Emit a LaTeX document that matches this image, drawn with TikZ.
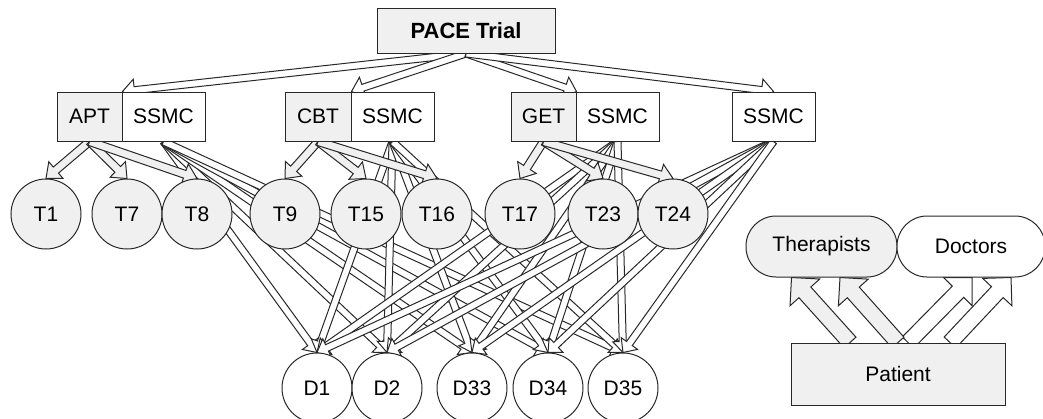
\documentclass[tikz,border=0pt]{standalone}
\usepackage{fontspec}
\setmainfont{Liberation Sans}
\usetikzlibrary{calc}
\pgfdeclarelayer{arrows}
\pgfsetlayers{arrows,main}

\definecolor{ink}{RGB}{40,40,40}
\definecolor{shade}{RGB}{240,240,240}

% Hollow block arrow: [style]{start}{tip}{shaft half width}{head half width}{head length}
\newcommand\blockarrow[6][]{%
  \coordinate (ba-s) at (#2);
  \coordinate (ba-t) at (#3);
  \coordinate (ba-b) at ($(ba-t)!#6!(ba-s)$);
  \draw[line width=1pt, draw=ink, line join=miter, #1]
    ($(ba-s)!#4!90:(ba-t)$) -- ($(ba-b)!#4!90:(ba-t)$) -- ($(ba-b)!#5!90:(ba-t)$)
    -- (ba-t) -- ($(ba-b)!#5!-90:(ba-t)$) -- ($(ba-b)!#4!-90:(ba-t)$)
    -- ($(ba-s)!#4!-90:(ba-t)$) -- cycle;
}
\newcommand\armarrow[2]{\blockarrow[fill=white]{#1}{#2}{3.5pt}{11pt}{12pt}}
\newcommand\therarrow[2]{\blockarrow[fill=shade]{#1}{#2}{4pt}{11pt}{13pt}}
\newcommand\docarrow[2]{\blockarrow[fill=white]{#1}{#2}{3.5pt}{10pt}{11pt}}
\newcommand\keyarrow[3]{\blockarrow[fill=#1]{#2}{#3}{8pt}{20pt}{20pt}}

\tikzset{
  every node/.style={font=\fontsize{21}{25}\selectfont, text=black, inner sep=0pt},
  box/.style={rectangle, draw=ink, line width=1pt, minimum height=49},
  pill/.style={rectangle, rounded corners=30pt, draw=ink, line width=1pt, minimum height=61},
  therapist/.style={circle, draw=ink, line width=1pt, fill=shade, minimum size=70},
  doctor/.style={circle, draw=ink, line width=1pt, fill=white, minimum size=70},
}

\begin{document}
\begin{tikzpicture}[x=1pt, y=-1pt]
\useasboundingbox (0,0) rectangle (1043,418);

% trial and its four arms
\node[box, fill=shade, minimum width=178, minimum height=45,
      font=\fontsize{22}{26}\selectfont\bfseries] (pace) at (466,30.5) {PACE Trial};

\node[box, fill=shade, minimum width=65] (apt) at (89.5,116.5) {APT};
\node[box, fill=white, minimum width=83] (aptsm) at (163.5,116.5) {SSMC};
\node[box, fill=shade, minimum width=66] (cbt) at (318,116.5) {CBT};
\node[box, fill=white, minimum width=83] (cbtsm) at (392.5,116.5) {SSMC};
\node[box, fill=shade, minimum width=65] (get) at (543.5,116.5) {GET};
\node[box, fill=white, minimum width=83] (getsm) at (617.5,116.5) {SSMC};
\node[box, fill=white, minimum width=83] (ssmc) at (773.5,116.5) {SSMC};

% therapists
\node[therapist] (t1)  at (46,214)  {T1};
\node[therapist] (t7)  at (127,214) {T7};
\node[therapist] (t8)  at (197,214) {T8};
\node[therapist] (t9)  at (285,214) {T9};
\node[therapist] (t15) at (366,214) {T15};
\node[therapist] (t16) at (437,214) {T16};
\node[therapist] (t17) at (520,214) {T17};
\node[therapist] (t23) at (603,214) {T23};
\node[therapist] (t24) at (673,214) {T24};

% doctors
\node[doctor] (d1)  at (317,388) {D1};
\node[doctor] (d2)  at (387,388) {D2};
\node[doctor] (d33) at (472,388) {D33};
\node[doctor] (d34) at (548,388) {D34};
\node[doctor] (d35) at (623,388) {D35};

% key
\node[pill, fill=shade, minimum width=151] (ther) at (821.5,246.5) {Therapists};
\node[pill, fill=white, minimum width=148] (doc) at (971,246.5) {Doctors};
\node[box, fill=shade, minimum width=214, minimum height=62] (patient) at (898,374) {Patient};

\begin{pgfonlayer}{arrows}
  % trial to arms
  \armarrow{pace.south}{apt.north east}
  \armarrow{pace.south}{cbt.north east}
  \armarrow{pace.south}{get.north east}
  \armarrow{pace.south}{ssmc.north}

  % every SSMC arm to every doctor
  \foreach \s in {aptsm,cbtsm,getsm,ssmc}{
    \foreach \d in {d1,d2,d33,d34,d35}{
      \docarrow{\s.south}{\d.north}
    }
  }

  % therapies to their therapists
  \foreach \t in {t1,t7,t8}{\therarrow{apt.south}{\t.north}}
  \foreach \t in {t9,t15,t16}{\therarrow{cbt.south}{\t.north}}
  \foreach \t in {t17,t23,t24}{\therarrow{get.south}{\t.north}}

  % key arrows
  \keyarrow{white}{$(patient.north)+(10,0)$}{$(doc.south)+(1,0)$}
  \keyarrow{white}{$(patient.north)+(52,0)$}{$(doc.south)+(40,0)$}
  \keyarrow{shade}{$(patient.north)+(-48,0)$}{$(ther.south)+(-30,0)$}
  \keyarrow{shade}{patient.north}{$(ther.south)+(18.5,0)$}
\end{pgfonlayer}
\end{tikzpicture}
\end{document}
